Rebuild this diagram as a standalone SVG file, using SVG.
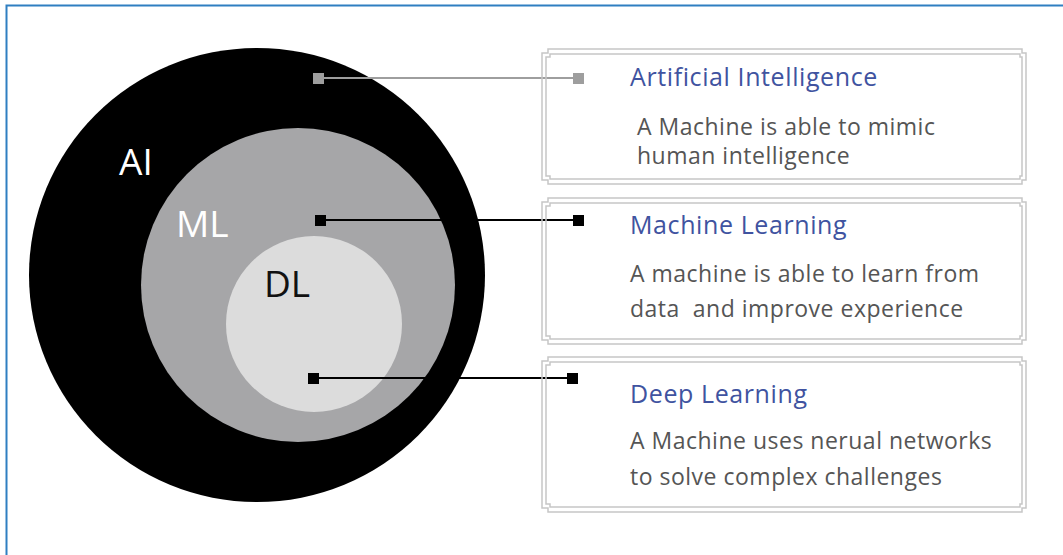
<svg xmlns="http://www.w3.org/2000/svg" width="1063" height="555" viewBox="0 0 1063 555">
<style>
.frame{fill:none;stroke:#c6c6c6;stroke-width:1.5}
.title{font-family:"Open Sans","Noto Sans",sans-serif;font-size:25px;letter-spacing:0.6px;fill:#4053a0}
.desc{font-family:"Open Sans","Noto Sans",sans-serif;font-size:23px;letter-spacing:0.5px;fill:#555555;white-space:pre}
.lbl{font-family:"Open Sans","Noto Sans",sans-serif;font-size:37px;font-weight:400}
.sq{stroke:none}
</style>
<rect width="1063" height="555" fill="#ffffff"/>
<path d="M6.5,555 V5.5 H1063" fill="none" stroke="#2f7fc1" stroke-width="2"/>
<g id="ai">
<ellipse cx="257" cy="275" rx="228" ry="227" fill="#000000"/>
<text class="lbl" x="119" y="175" fill="#ffffff">AI</text>
</g>
<g id="ml">
<circle cx="298" cy="285" r="157" fill="#a6a6a8"/>
<text class="lbl" x="176" y="237" fill="#ffffff">ML</text>
</g>
<g id="dl">
<circle cx="314" cy="324" r="88" fill="#dcdcdc"/>
<text class="lbl" x="264" y="297" fill="#111111">DL</text>
</g>
<g id="connectors">
<line x1="318" y1="78" x2="579" y2="78" stroke="#9e9e9e" stroke-width="2"/>
<rect class="sq" x="313" y="73" width="11" height="11" fill="#9e9e9e"/>
<rect class="sq" x="573" y="73" width="11" height="11" fill="#9e9e9e"/>
<line x1="320" y1="220" x2="578" y2="220" stroke="#000" stroke-width="2"/>
<rect class="sq" x="315" y="215" width="11" height="11" fill="#000"/>
<rect class="sq" x="573" y="215" width="11" height="11" fill="#000"/>
<line x1="313" y1="378" x2="572" y2="378" stroke="#000" stroke-width="2"/>
<rect class="sq" x="308" y="373" width="11" height="11" fill="#000"/>
<rect class="sq" x="567" y="373" width="11" height="11" fill="#000"/>
</g>
<g id="box-ai">
<path class="frame" d="M548,49 H1022 V53 H1026 V180 H1022 V184 H548 V180 H542 V53 H548 Z"/>
<path class="frame" d="M550,54 H1020 V57 H1022 V176 H1020 V179 H550 V176 H546 V57 H550 Z"/>
<text class="title" x="630" y="86">Artificial Intelligence</text>
<text class="desc" x="637" y="135">A Machine is able to mimic</text>
<text class="desc" x="637" y="164">human intelligence</text>
</g>
<g id="box-ml">
<path class="frame" d="M548,198 H1022 V202 H1026 V340 H1022 V344 H548 V340 H542 V202 H548 Z"/>
<path class="frame" d="M550,203 H1020 V206 H1022 V336 H1020 V339 H550 V336 H546 V206 H550 Z"/>
<text class="title" x="630" y="234">Machine Learning</text>
<text class="desc" x="630" y="282">A machine is able to learn from</text>
<text class="desc" x="630" y="317">data  and improve experience</text>
</g>
<g id="box-dl">
<path class="frame" d="M548,357 H1022 V361 H1026 V508 H1022 V512 H548 V508 H542 V361 H548 Z"/>
<path class="frame" d="M550,362 H1020 V365 H1022 V504 H1020 V507 H550 V504 H546 V365 H550 Z"/>
<text class="title" x="630" y="403">Deep Learning</text>
<text class="desc" x="630" y="449">A Machine uses nerual networks</text>
<text class="desc" x="630" y="485">to solve complex challenges</text>
</g>
</svg>
